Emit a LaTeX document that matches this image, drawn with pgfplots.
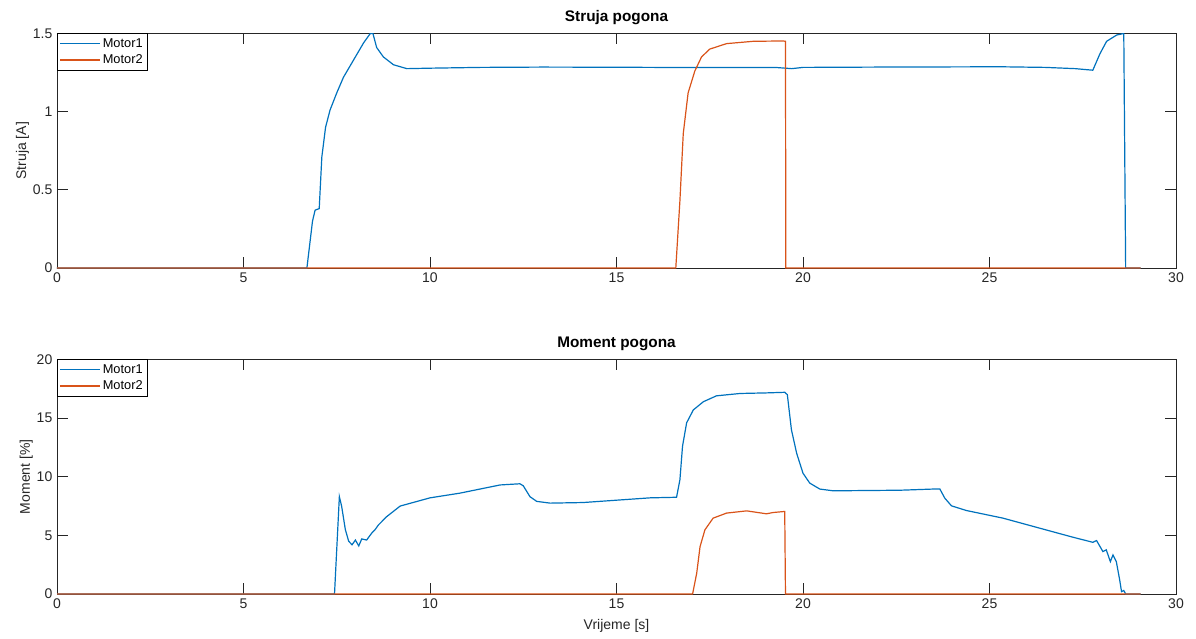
\documentclass[border=0pt]{standalone}
\usepackage{pgfplots}
\pgfplotsset{compat=1.18}
\usepackage{fontspec}
\setmainfont{Liberation Sans}

\definecolor{mblue}{rgb}{0,0.447,0.741}
\definecolor{morange}{rgb}{0.85,0.325,0.098}
\definecolor{axgray}{rgb}{0.15,0.15,0.15}

\pgfplotsset{
  mstyle/.style={
    scale only axis,
    width=839.25pt, height=175.9pt,
    xmin=0, xmax=30,
    xtick={0,5,...,30},
    tick align=inside,
    major tick length=8pt,
    xtick pos=both, ytick pos=both,
    axis line style={axgray, line width=0.6pt},
    major tick style={axgray, line width=0.6pt},
    ticklabel style={font=\fontsize{10.5}{12}\selectfont, text=axgray},
    /pgf/number format/assume math mode=true,
    title style={font=\fontsize{11.5}{13}\selectfont\bfseries, yshift=-3pt},
    label style={font=\fontsize{10.5}{12}\selectfont, text=axgray},
    legend style={at={(0,1)}, anchor=north west, font=\fontsize{9.6}{11}\selectfont,
      inner sep=1.5pt, row sep=0pt, cells={anchor=west}},
    legend image code/.code={\draw[#1, line width=0.8pt] (0cm,0cm) -- (1.05cm,0cm);},
    every axis plot/.append style={line width=0.9pt},
  }
}

\begin{document}
\begin{tikzpicture}
\useasboundingbox (0,0) rectangle (897pt,-479.25pt);

\begin{axis}[mstyle,
  at={(42.75pt,-201pt)}, anchor=south west,
  ymin=0, ymax=1.5, ytick={0,0.5,1,1.5},
  yticklabels={0,0.5,1,1.5},
  title={Struja pogona},
  ylabel={Struja [A]},
  ylabel style={yshift=-4pt},
]
\addplot[mblue] coordinates {
(0,0) (6.70,0) (6.85,0.30) (6.92,0.37) (7.03,0.38) (7.10,0.71) (7.20,0.90)
(7.32,1.01) (7.50,1.12) (7.68,1.22) (7.95,1.33) (8.22,1.44) (8.40,1.50)
(8.47,1.50) (8.57,1.41) (8.75,1.35) (9.02,1.30) (9.38,1.275) (10.0,1.278)
(11.35,1.283) (13.0,1.285) (15.0,1.284) (17.0,1.282) (19.3,1.282) (19.7,1.275)
(20.0,1.283) (22.0,1.285) (25.3,1.287) (26.5,1.283) (27.3,1.275) (27.77,1.265)
(27.96,1.37) (28.14,1.45) (28.41,1.49) (28.60,1.50) (28.65,0) (29.05,0)
};
\addlegendentry{Motor1}
\addplot[morange] coordinates {
(0,0) (16.59,0) (16.70,0.43) (16.79,0.86) (16.92,1.12) (17.10,1.26) (17.28,1.35)
(17.50,1.40) (17.95,1.435) (18.67,1.45) (19.47,1.452) (19.53,1.45) (19.54,0) (29.05,0)
};
\addlegendentry{Motor2}
\end{axis}

\begin{axis}[mstyle,
  at={(42.75pt,-445.5pt)}, anchor=south west,
  ymin=0, ymax=20, ytick={0,5,...,20},
  title={Moment pogona},
  ylabel={Moment [\%]},
  xlabel={Vrijeme [s]},
  ylabel style={yshift=-4pt},
  xlabel style={yshift=-1pt},
]
\addplot[mblue] coordinates {
(0,0) (7.44,0) (7.57,8.3) (7.63,7.5) (7.73,5.5) (7.82,4.5) (7.91,4.2) (8.0,4.6)
(8.09,4.1) (8.17,4.7) (8.30,4.6) (8.44,5.2) (8.53,5.5) (8.62,5.9) (8.84,6.6)
(9.2,7.5) (10.0,8.2) (10.8,8.6) (11.88,9.3) (12.41,9.4) (12.50,9.23) (12.68,8.3)
(12.86,7.9) (13.22,7.75) (14.1,7.8) (15.0,8.0) (15.9,8.2) (16.61,8.25) (16.70,9.74)
(16.77,12.6) (16.88,14.6) (17.06,15.7) (17.33,16.4) (17.68,16.9) (18.31,17.1)
(19.02,17.15) (19.51,17.2) (19.58,17.0) (19.69,14.0) (19.83,12.0) (20.0,10.3)
(20.18,9.46) (20.45,8.95) (20.81,8.8) (22.6,8.85) (23.49,8.95) (23.67,8.95)
(23.80,8.18) (23.98,7.52) (24.38,7.12) (25.36,6.47) (26.35,5.61) (27.24,4.84)
(27.77,4.41) (27.87,4.56) (28.04,3.62) (28.13,3.77) (28.24,2.76) (28.31,3.33)
(28.40,2.76) (28.49,1.2) (28.54,0.2) (28.60,0.3) (28.65,0) (29.05,0)
};
\addlegendentry{Motor1}
\addplot[morange] coordinates {
(0,0) (17.04,0) (17.15,1.77) (17.24,4.04) (17.37,5.47) (17.59,6.47) (17.95,6.9)
(18.49,7.09) (19.02,6.84) (19.2,6.95) (19.51,7.04) (19.53,0) (29.05,0)
};
\addlegendentry{Motor2}
\end{axis}
\end{tikzpicture}
\end{document}
